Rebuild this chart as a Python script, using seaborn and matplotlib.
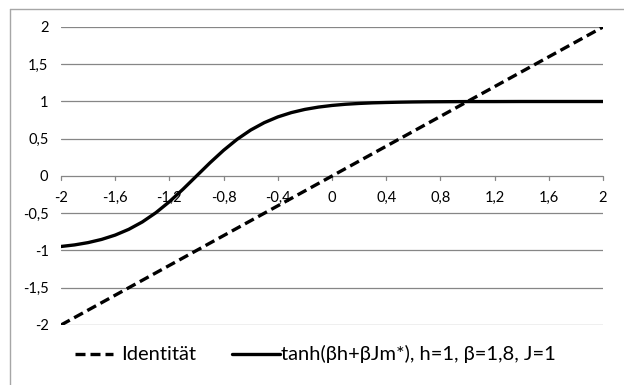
import matplotlib
matplotlib.use("Agg")
import matplotlib.pyplot as plt
import matplotlib.transforms as mtrans
import seaborn as sns
import pandas as pd
from matplotlib.lines import Line2D

sns.set_theme(style="white")
plt.rcParams['font.family'] = ['Lato', 'DejaVu Sans']

# Identity line
ident_x = [-2.0, 2.0]
ident_y = [-2.0, 2.0]

# tanh curve values
m_x = [-2.0, -1.9, -1.8, -1.7, -1.6, -1.5, -1.4, -1.3, -1.2, -1.1, -1.0,
       -0.9, -0.8, -0.7, -0.6, -0.5, -0.4, -0.3, -0.2, -0.1, 0.0,
       0.1, 0.2, 0.3, 0.4, 0.5, 0.6, 0.7, 0.8, 0.9, 1.0,
       1.2, 1.4, 1.6, 1.8, 2.0]
m_y = [-0.946, -0.925, -0.894, -0.851, -0.793, -0.716, -0.617, -0.493, -0.345, -0.178, 0.0,
       0.178, 0.345, 0.493, 0.617, 0.716, 0.793, 0.851, 0.894, 0.925, 0.947,
       0.963, 0.974, 0.982, 0.987, 0.991, 0.994, 0.996, 0.997, 0.998, 0.999,
       0.999, 1.0, 1.0, 1.0, 1.0]

x_ticks = [-2, -1.6, -1.2, -0.8, -0.4, 0, 0.4, 0.8, 1.2, 1.6, 2]
x_labels = ["-2", "-1,6", "-1,2", "-0,8", "-0,4", "0", "0,4", "0,8", "1,2", "1,6", "2"]
y_ticks = [-2, -1.5, -1, -0.5, 0, 0.5, 1, 1.5, 2]
y_labels = ["-2", "-1,5", "-1", "-0,5", "0", "0,5", "1", "1,5", "2"]

label_ident = "Identität"
label_tanh = "tanh(βh+βJm*), h=1, β=1,8, J=1"

W, H = 624, 385
fig = plt.figure(figsize=(W/100, H/100), dpi=100)
ax = fig.add_axes([61/W, 1-325/H, (603-61)/W, (325-27)/H])

grid_c = "#868686"
dash = (0, (3, 1.5))
for y in y_ticks:
    ax.axhline(y, color=grid_c, lw=0.9, zorder=0)

df_id = pd.DataFrame({"x": ident_x, "y": ident_y})
df_t = pd.DataFrame({"x": m_x, "y": m_y})
sns.lineplot(data=df_id, x="x", y="y", ax=ax, color="black", lw=2.4,
             linestyle=dash, zorder=3)
sns.lineplot(data=df_t, x="x", y="y", ax=ax, color="black", lw=2.4, zorder=3)

ax.set_xlim(-2, 2)
ax.set_ylim(-2, 2)
for s in ax.spines.values():
    s.set_visible(False)
ax.set_xlabel("")
ax.set_ylabel("")
ax.set_xticks([])
ax.set_yticks(y_ticks)
ax.set_yticklabels(y_labels)
ax.tick_params(axis="y", length=0, pad=9, labelsize=10.5, colors="black")

# x tick marks and labels along zero line
down = mtrans.offset_copy(ax.transData, fig=fig, x=0, y=-11, units="points")
for xt, lab in zip(x_ticks, x_labels):
    ax.plot([xt, xt], [0, -0.055], color=grid_c, lw=0.9, zorder=1, clip_on=False)
    ax.text(xt, 0, lab, ha="center", va="top", fontsize=10.5, color="black",
            transform=down)

# legend drawn in figure pixels
ly = 1 - 354/H
fig.add_artist(Line2D([75/W, 113/W], [ly, ly], transform=fig.transFigure,
                      color="black", lw=2.4, linestyle=dash))
fig.text(121/W, ly, label_ident, ha="left", va="center", fontsize=14.5, color="black")
fig.add_artist(Line2D([232/W, 280/W], [ly, ly], transform=fig.transFigure,
                      color="black", lw=2.4))
fig.text(281/W, ly, label_tanh, ha="left", va="center", fontsize=14.5, color="black")

# outer border (top and left visible)
fig.add_artist(Line2D([10/W, 10/W], [0, 1-9/H], transform=fig.transFigure,
                      color="#a6a6a6", lw=1))
fig.add_artist(Line2D([10/W, 1], [1-9/H, 1-9/H], transform=fig.transFigure,
                      color="#a6a6a6", lw=1))

fig.savefig("out.png", dpi=100)
